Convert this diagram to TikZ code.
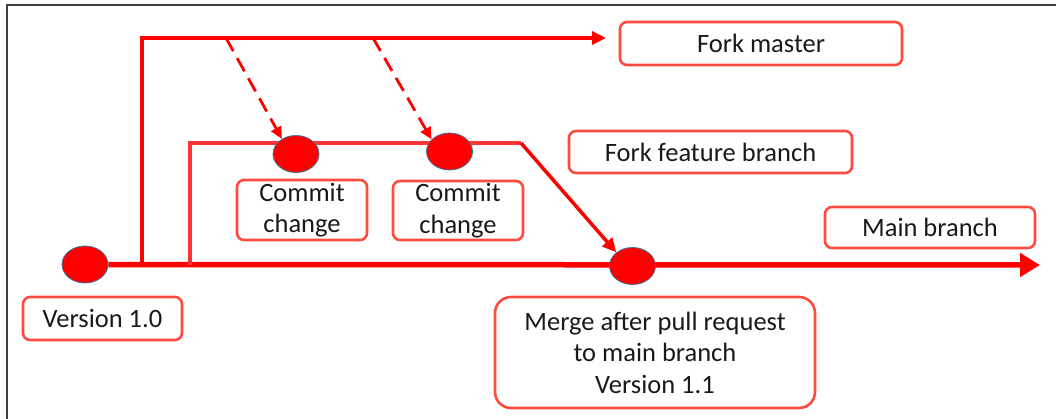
\documentclass[tikz,border=0pt]{standalone}
\usepackage{fontspec}
\setmainfont{Carlito}
\usetikzlibrary{arrows.meta,shapes.geometric,backgrounds}
\definecolor{boxred}{HTML}{FF4A3D}
\definecolor{dotline}{HTML}{41719C}
\tikzset{
  commit/.style={ellipse, fill=red, draw=dotline, line width=0.8pt, minimum width=46pt, minimum height=37pt, inner sep=0pt},
  label box/.style={draw=boxred, line width=2.6pt, rounded corners=7pt, inner sep=0pt, align=center,
    font=\fontsize{26.5}{31.5}\selectfont, text=black!90},
  branch/.style={draw=red, line width=3.5pt},
  mainline/.style={draw=red, line width=5.5pt},
  dashedarrow/.style={draw=red, line width=2.8pt, dash pattern=on 15pt off 8pt, -{Triangle[length=12pt,width=11pt]}},
}
\begin{document}
\begin{tikzpicture}[x=1pt,y=-1pt]
\useasboundingbox (0,0) rectangle (1056,419);
% frame
\draw[line width=1.6pt, black!75] (7,419) -- (7,5) -- (1056,5);
% commit dots
\node[commit] (v10) at (85,264.5) {};
\node[commit] (c1) at (296,154) {};
\node[commit] (c2) at (449.5,151.5) {};
\node[commit] (merge) at (632.5,266) {};
% label boxes
\node[label box, minimum width=282pt, minimum height=43pt] (lfm) at (761,43.5) {Fork master};
\node[label box, minimum width=283pt, minimum height=42pt] (lff) at (710.5,152) {Fork feature branch};
\node[label box, minimum width=210pt, minimum height=41pt] (lmb) at (930,227.5) {Main branch};
\node[label box, minimum width=159pt, minimum height=43pt] (lv) at (102.5,318.5) {Version 1.0};
\node[label box, minimum width=130pt, minimum height=60pt] (lc1) at (302,210) {Commit\\change};
\node[label box, minimum width=130pt, minimum height=59pt] (lc2) at (458,210.5) {Commit\\change};
\node[label box, rounded corners=16pt, minimum width=320pt, minimum height=111pt] (lm) at (655,352.5) {Merge after pull request\\to main branch\\Version 1.1};
% coordinates
\coordinate (mainend) at (1040,265);
\coordinate (fmstart) at (142,265);
\coordinate (fmend) at (606,38);
\coordinate (ffstart) at (190,265);
\coordinate (ffcorner) at (521,143);
\coordinate (d1) at (226,38);
\coordinate (d2) at (373,38);
\begin{pgfonlayer}{background}
\draw[mainline, -{Triangle[length=20pt,width=23pt]}] (v10) -- (mainend);
\draw[branch, -{Triangle[length=14pt,width=13pt]}] (fmstart) |- (fmend);
\draw[branch, draw=red!80!white] (ffstart) |- (ffcorner);
\draw[branch, -{Triangle[length=14pt,width=13pt]}] (ffcorner) -- (merge.140);
\draw[dashedarrow] (d1) -- (c1.133);
\draw[dashedarrow] (d2) -- (c2.146);
\end{pgfonlayer}
\end{tikzpicture}
\end{document}
